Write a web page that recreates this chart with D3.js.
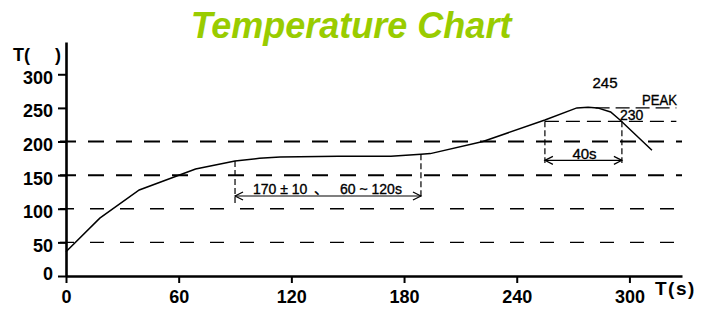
<!DOCTYPE html>
<html>
<head>
<meta charset="utf-8">
<script src="https://cdn.jsdelivr.net/npm/d3@7"></script>
<style>
  body { margin: 0; background: #fff; }
  text { font-family: "Liberation Sans", Arial, "Noto Sans CJK SC", sans-serif; }
</style>
</head>
<body>
<svg id="chart"></svg>
<script>
// reflow profile (time in s, temperature)
const times = [0, 18, 39, 69, 90, 103, 114, 145, 173, 189, 194, 222, 255, 272, 278, 283, 290, 295, 312];
const temps = [36, 86, 128, 159, 171, 175, 177, 178, 178, 181, 182, 200, 232, 250, 251, 250, 244, 232, 187];

const xTicks = [0, 60, 120, 180, 240, 300];
const yTicks = [0, 50, 100, 150, 200, 250, 300];
const heavyGrid = [200, 150];
const lightGrid = [100, 50];

const soakWindow = [90, 189];
const soakTop = [171, 181];
const peakTemp = 250;
const liquidTemp = 230;
const liquidWindow = [255, 296];

const width = 714;
const height = 311;

const svg = d3.select('#chart')
  .attr('width', width)
  .attr('height', height);

const x = d3.scaleLinear().domain([0, 328]).range([66, 682]);
const y = d3.scaleLinear().domain([0, 348]).range([276, 42]);

// title
svg.append('text')
  .attr('x', 351)
  .attr('y', 38)
  .attr('text-anchor', 'middle')
  .attr('fill', '#99cc00')
  .style('font-size', '36px')
  .style('font-weight', 'bold')
  .style('font-style', 'italic')
  .text('Temperature Chart');

// grid lines
svg.append('g')
  .selectAll('line')
  .data(heavyGrid)
  .join('line')
  .attr('x1', 60)
  .attr('x2', x(328))
  .attr('y1', d => y(d))
  .attr('y2', d => y(d))
  .attr('stroke', '#000')
  .attr('stroke-width', 2)
  .attr('stroke-dasharray', '16,12');

svg.append('g')
  .selectAll('line')
  .data(lightGrid)
  .join('line')
  .attr('x1', 60)
  .attr('x2', x(328))
  .attr('y1', d => y(d))
  .attr('y2', d => y(d))
  .attr('stroke', '#000')
  .attr('stroke-width', 1.3)
  .attr('stroke-dasharray', '14,16');

// peak / 230 lines
svg.append('line')
  .attr('x1', x(282)).attr('x2', x(325))
  .attr('y1', y(peakTemp)).attr('y2', y(peakTemp))
  .attr('stroke', '#000').attr('stroke-width', 1.3)
  .attr('stroke-dasharray', '14,6');

svg.append('line')
  .attr('x1', x(liquidWindow[0])).attr('x2', x(325))
  .attr('y1', y(liquidTemp)).attr('y2', y(liquidTemp))
  .attr('stroke', '#000').attr('stroke-width', 1.3)
  .attr('stroke-dasharray', '14,7');

// axes
const xAxis = svg.append('g')
  .attr('transform', `translate(0,${y(0)})`)
  .call(d3.axisBottom(x).tickValues(xTicks).tickSize(7).tickSizeOuter(0).tickPadding(7));

const yAxis = svg.append('g')
  .attr('transform', `translate(${x(0)},0)`)
  .call(d3.axisLeft(y).tickValues(yTicks).tickSize(8).tickSizeOuter(0).tickPadding(5));

[xAxis, yAxis].forEach(g => {
  g.select('.domain').attr('stroke-width', 2.6);
  g.selectAll('.tick line').attr('stroke-width', 2);
  g.selectAll('.tick text')
    .attr('fill', '#000')
    .style('font-size', '18px')
    .style('font-weight', 'bold')
    .style('font-family', '"Liberation Sans", Arial, sans-serif');
});
yAxis.selectAll('.tick text').attr('dy', d => d === 0 ? '0.18em' : '0.5em');

svg.append('text')
  .attr('x', 13).attr('y', 61)
  .style('font-size', '18px').style('font-weight', 'bold')
  .text('T(')
  .append('tspan').attr('x', 55).text(')');

svg.append('text')
  .attr('x', 655).attr('y', 295)
  .style('font-size', '19px').style('font-weight', 'bold')
  .style('letter-spacing', '1.5px')
  .text('T(s)');

// profile curve
const pts = times.map((t, i) => [t, temps[i]]);
svg.append('path')
  .datum(pts)
  .attr('fill', 'none')
  .attr('stroke', '#000')
  .attr('stroke-width', 1.5)
  .attr('d', d3.line().x(d => x(d[0])).y(d => y(d[1])));

// annotations
const ann = svg.append('g').attr('stroke', '#000').attr('fill', 'none').attr('stroke-width', 1.2);

function arrow(x1, x2, yy) {
  ann.append('line').attr('x1', x1).attr('x2', x2).attr('y1', yy).attr('y2', yy);
  ann.append('path').attr('d', `M${x1 + 8},${yy - 4}L${x1},${yy}L${x1 + 8},${yy + 4}`);
  ann.append('path').attr('d', `M${x2 - 8},${yy - 4}L${x2},${yy}L${x2 - 8},${yy + 4}`);
}

function vdash(xx, y1, y2) {
  ann.append('line')
    .attr('x1', xx).attr('x2', xx).attr('y1', y1).attr('y2', y2)
    .attr('stroke-dasharray', '6,3');
}

vdash(x(soakWindow[0]), y(soakTop[0]), y(108));
vdash(x(soakWindow[1]), y(soakTop[1]), y(114));
arrow(x(soakWindow[0]), x(soakWindow[1]), y(119));

vdash(x(liquidWindow[0]), y(liquidTemp), y(168));
vdash(x(liquidWindow[1]), y(liquidTemp), y(168));
arrow(x(liquidWindow[0]), x(liquidWindow[1]), y(172));

const label = (tx, ty, str, size, anchor) => svg.append('text')
  .attr('x', tx).attr('y', ty)
  .attr('text-anchor', anchor || 'start')
  .attr('stroke', '#000')
  .attr('stroke-width', 0.35)
  .style('font-size', size + 'px')
  .text(str);

label(253, 193.5, '170 ± 10', 14);
label(314, 193.5, '、', 14).style('font-family', '"Noto Sans CJK SC", sans-serif');
label(340, 193.5, '60 ~ 120s', 14);
label(584.5, 158.5, '40s', 15, 'middle');
label(605, 88, '245', 15, 'middle');
label(620, 120, '230', 14);
label(642, 105, 'PEAK', 14)
  .attr('textLength', 35)
  .attr('lengthAdjust', 'spacingAndGlyphs');
</script>
</body>
</html>
